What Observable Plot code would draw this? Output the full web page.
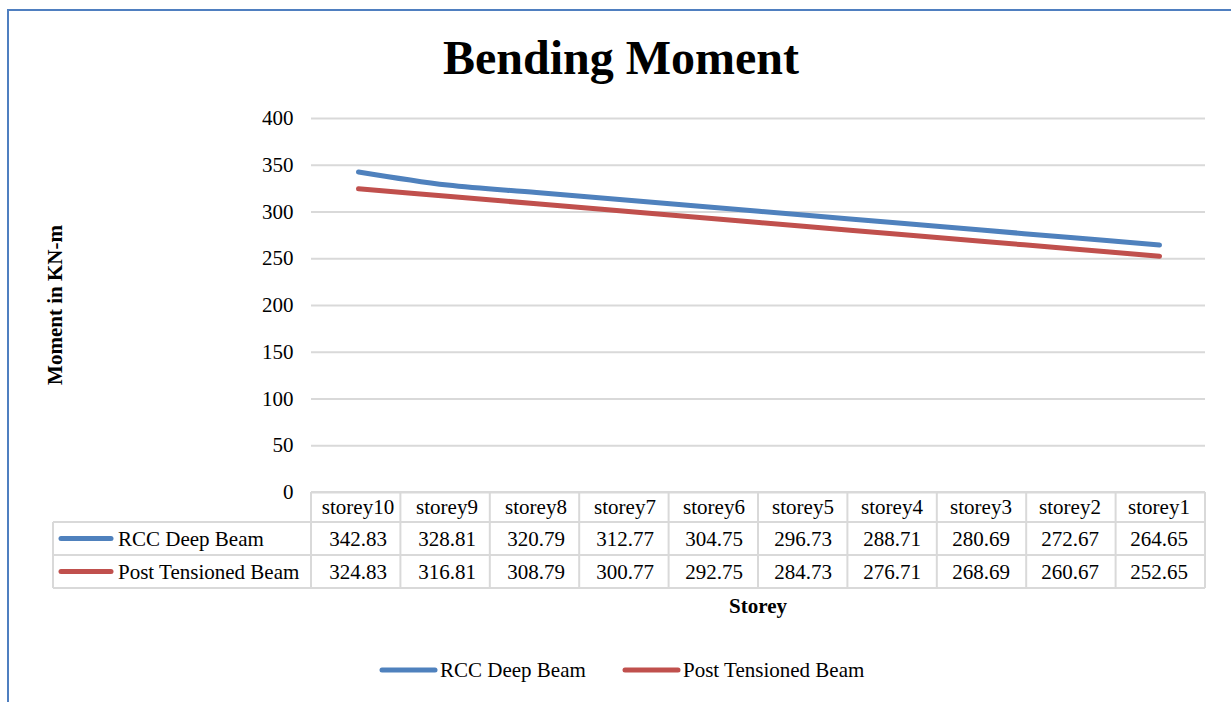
<!DOCTYPE html>
<html>
<head>
<meta charset="utf-8">
<script src="https://cdn.jsdelivr.net/npm/d3@7"></script>
<script src="https://cdn.jsdelivr.net/npm/@observablehq/plot@0.6"></script>
<style>
  html, body { margin: 0; padding: 0; background: #fff; }
  #wrap { position: relative; width: 1231px; height: 702px; overflow: hidden; font-family: "Liberation Serif", "Times New Roman", serif; color: #000; }
  #frame { position: absolute; left: 7px; top: 9px; width: 1300px; height: 800px; border-left: 2px solid #4f7fc0; border-top: 2px solid #4f7fc0; box-sizing: border-box; }
  #title { position: absolute; left: 7px; width: 1228px; top: 28px; text-align: center; font-weight: bold; font-size: 48px; line-height: 60px; }
  #ytitle { position: absolute; left: 55px; top: 305px; transform: translate(-50%, -50%) rotate(-90deg); font-weight: bold; font-size: 21px; white-space: nowrap; }
  #xtitle { position: absolute; left: 758px; top: 606px; transform: translate(-50%, -50%); font-weight: bold; font-size: 21px; white-space: nowrap; }
  #chart { position: absolute; left: 0; top: 0; }
  #table { position: absolute; left: 0; top: 0; }
</style>
</head>
<body>
<div id="wrap">
  <div id="frame"></div>
  <div id="chart"></div>
  <svg id="table" width="1231" height="702"></svg>
  <div id="title">Bending Moment</div>
  <div id="ytitle">Moment in KN-m</div>
  <div id="xtitle">Storey</div>
</div>
<script>
const storeys = ["storey10","storey9","storey8","storey7","storey6","storey5","storey4","storey3","storey2","storey1"];
const rccDeepBeam = [342.83, 328.81, 320.79, 312.77, 304.75, 296.73, 288.71, 280.69, 272.67, 264.65];
const postTensionedBeam = [324.83, 316.81, 308.79, 300.77, 292.75, 284.73, 276.71, 268.69, 260.67, 252.65];
const seriesNames = ["RCC Deep Beam", "Post Tensioned Beam"];
const seriesColors = ["#4f81bd", "#c0504d"];
const yTicks = [0, 50, 100, 150, 200, 250, 300, 350, 400];

const seriesValues = [rccDeepBeam, postTensionedBeam];
const data = [];
seriesNames.forEach((s, si) => storeys.forEach((c, i) => data.push({series: s, storey: c, value: seriesValues[si][i]})));

const serif = "'Liberation Serif', 'Times New Roman', serif";

const plot = Plot.plot({
  width: 1231,
  height: 702,
  marginTop: 118,
  marginBottom: 210,
  marginLeft: 311,
  marginRight: 26,
  style: {fontFamily: serif, fontSize: "21px", color: "#000", background: "transparent"},
  x: {type: "point", domain: storeys, padding: 0.5, axis: null},
  y: {domain: [0, 400], axis: null},
  color: {domain: seriesNames, range: seriesColors},
  marks: [
    Plot.gridY(yTicks, {stroke: "#d9d9d9", strokeOpacity: 1, strokeWidth: 2}),
    Plot.axisY(yTicks, {tickSize: 0, tickPadding: 18, fontSize: 21, fontFamily: serif, label: null, fill: "#000"}),
    Plot.line(data, {x: "storey", y: "value", z: "series", stroke: "series", strokeWidth: 5, curve: "catmull-rom", strokeLinecap: "round"})
  ]
});
document.getElementById("chart").appendChild(plot);

// Data table beneath the plot, aligned to the x scale
const xs = plot.scale("x");
const ys = plot.scale("y");
const x0 = xs.range[0], x1 = xs.range[1];
const step = (x1 - x0) / storeys.length;
const yTop = ys.apply(0);
const rowH = [30, 33, 33];
const r0 = yTop, r1 = r0 + rowH[0], r2 = r1 + rowH[1], r3 = r2 + rowH[2];
const labelLeft = 53;
const svg = d3.select("#table");
const g = svg.append("g").attr("stroke", "#d9d9d9").attr("stroke-width", 2);
g.append("line").attr("x1", x0).attr("x2", x1).attr("y1", r0).attr("y2", r0);
[r1, r2, r3].forEach(y => g.append("line").attr("x1", labelLeft).attr("x2", x1).attr("y1", y).attr("y2", y));
g.append("line").attr("x1", labelLeft).attr("x2", labelLeft).attr("y1", r1).attr("y2", r3);
for (let i = 0; i <= storeys.length; i++) {
  const x = x0 + i * step;
  g.append("line").attr("x1", x).attr("x2", x).attr("y1", r0).attr("y2", r3);
}
const t = svg.append("g").style("font-family", serif).attr("font-size", 21).attr("fill", "#000");
storeys.forEach((c, i) => {
  const cx = xs.apply(c);
  t.append("text").attr("x", cx).attr("y", (r0 + r1) / 2).attr("dy", "0.35em").attr("text-anchor", "middle").text(c);
  seriesValues.forEach((vals, si) => {
    const ry = si === 0 ? (r1 + r2) / 2 : (r2 + r3) / 2;
    t.append("text").attr("x", cx).attr("y", ry).attr("dy", "0.35em").attr("text-anchor", "middle").text(vals[i].toFixed(2));
  });
});
seriesNames.forEach((s, si) => {
  const ry = si === 0 ? (r1 + r2) / 2 : (r2 + r3) / 2;
  svg.append("line").attr("x1", 61).attr("x2", 111).attr("y1", ry).attr("y2", ry)
    .attr("stroke", seriesColors[si]).attr("stroke-width", 5).attr("stroke-linecap", "round");
  t.append("text").attr("x", 118).attr("y", ry).attr("dy", "0.35em").text(s);
});

// Legend at bottom
const legendItems = [{x: 382, tx: 440}, {x: 625, tx: 683}];
seriesNames.forEach((s, si) => {
  const ly = 670;
  svg.append("line").attr("x1", legendItems[si].x).attr("x2", legendItems[si].x + 53).attr("y1", ly).attr("y2", ly)
    .attr("stroke", seriesColors[si]).attr("stroke-width", 5).attr("stroke-linecap", "round");
  t.append("text").attr("x", legendItems[si].tx).attr("y", ly).attr("dy", "0.35em").text(s);
});
</script>
</body>
</html>
